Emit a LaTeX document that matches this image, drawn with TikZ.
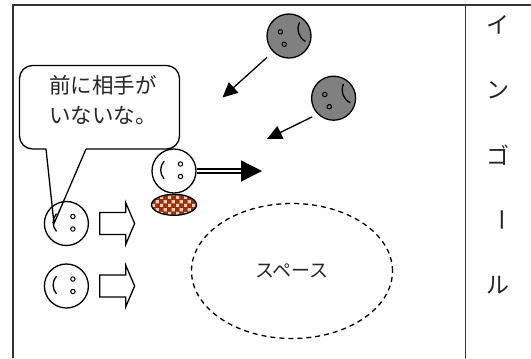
\documentclass[tikz,border=0pt]{standalone}
\usepackage{fontspec}
\newfontfamily\jp{Noto Sans CJK JP}
\usetikzlibrary{shapes.geometric}
\usetikzlibrary{arrows.meta}
\usetikzlibrary{patterns}
\usetikzlibrary{positioning}

\definecolor{ballbrown}{RGB}{150,52,8}
\definecolor{facegray}{RGB}{128,128,128}

% checks on the ball
\pgfdeclarepatternformonly{ballchecks}{\pgfpointorigin}{\pgfqpoint{8bp}{8bp}}{\pgfqpoint{8bp}{8bp}}{%
  \pgfpathrectangle{\pgfpointorigin}{\pgfqpoint{3.5bp}{3.5bp}}%
  \pgfpathrectangle{\pgfqpoint{4bp}{4bp}}{\pgfqpoint{3.5bp}{3.5bp}}%
  \pgfusepath{fill}}

\tikzset{
  jptext/.style={font=\jp\fontsize{21.5bp}{30bp}\selectfont,text=black!85,inner sep=0pt},
  player/.style={circle,draw,fill=white,minimum size=44bp,inner sep=0pt},
  defender/.style={player,fill=facegray},
  ball/.style={ellipse,draw,minimum width=45bp,minimum height=21bp,inner sep=0pt,
    preaction={fill=ballbrown},pattern=ballchecks,pattern color=white!75!ballbrown},
  space/.style={ellipse,draw,dash pattern=on 5bp off 4bp,minimum width=201bp,minimum height=135bp,inner sep=0pt},
  pass/.style={-{Triangle[length=15bp,width=14bp]}},
  eye/.style={line width=1bp},
  smile/.pic={
    \draw[eye] (6.5,-7) circle (2.2) (6.5,5.5) circle (2.2);
    \draw (0,-1) ++(138:13.3) arc (138:222:13.3);
  },
  frown/.pic={
    \draw[eye] (-7,-6.5) circle (2.2) (-7,6.5) circle (2.2);
    \draw (24,0) ++(135:14) arc (135:225:14);
  },
  run/.pic={
    \draw[fill=white] (0,-11) -- (26,-11) -- (26,-21) -- (35,0) -- (26,21) -- (26,11) -- (0,11) -- cycle;
  }
}

\begin{document}
\begin{tikzpicture}[x=1bp,y=-1bp,line width=1.3bp]
\useasboundingbox (0,0) rectangle (531,358);

% field and in-goal column
\draw[black!80] (13,358) -- (13,5) -- (531,5);
\draw[black!80] (465.5,5) -- (465.5,358);
\foreach \ch/\r [count=\i] in {イ/0,ン/0,ゴ/0,ー/-90,ル/0}
  \node[jptext,font=\jp\fontsize{23bp}{30bp}\selectfont,rotate=\r] (g\i) at (498,{25+65*(\i-1)}) {\ch};

% defenders
\node[defender] (d1) at (289,36) {};
\pic[rotate=17] at (d1) {frown};
\node[defender] (d2) at (333.6,98.2) {};
\pic[rotate=20] at (d2) {frown};
\coordinate (t1) at (222.5,97.5);
\coordinate (t2) at (267,139);
\draw[pass,shorten <=8bp] (d1.225) -- (t1);
\draw[pass,shorten <=6bp] (d2.225) -- (t2);

% ball carrier
\node[player] (p1) at (174,171) {};
\pic at (p1) {smile};
\node[ball,below=0bp of p1] (b) {};
\coordinate (neck) at (241,171);
\coordinate (kick) at (262,171);
\draw[double,double distance=2.8bp] (p1) -- (neck);
\draw[-{Triangle[length=21bp,width=21bp]}] (neck) -- (kick);

% support players
\node[player] (p2) at (66.4,223.5) {};
\pic at (p2) {smile};
\node[player] (p3) at (66.4,286) {};
\pic at (p3) {smile};
\pic at ([xshift=10.6bp]p2.east) {run};
\pic at ([xshift=10.6bp]p3.east) {run};

% speech bubble
\coordinate (tip) at (54,223.5);
\draw[rounded corners=13bp] (46,149) -- (19.5,149) -- (19.5,65.5) -- (179.5,65.5) -- (179.5,149) -- (86,149);
\draw (46,149) -- (tip) -- (86,149);
\node[jptext,align=left] (msg) at (103,100) {前に相手が\\いないな。};

% open space
\node[space,jptext,font=\jp\fontsize{19bp}{24bp}\selectfont,inner sep=0pt] (sp) at (292,271) {スペース};
\end{tikzpicture}
\end{document}
